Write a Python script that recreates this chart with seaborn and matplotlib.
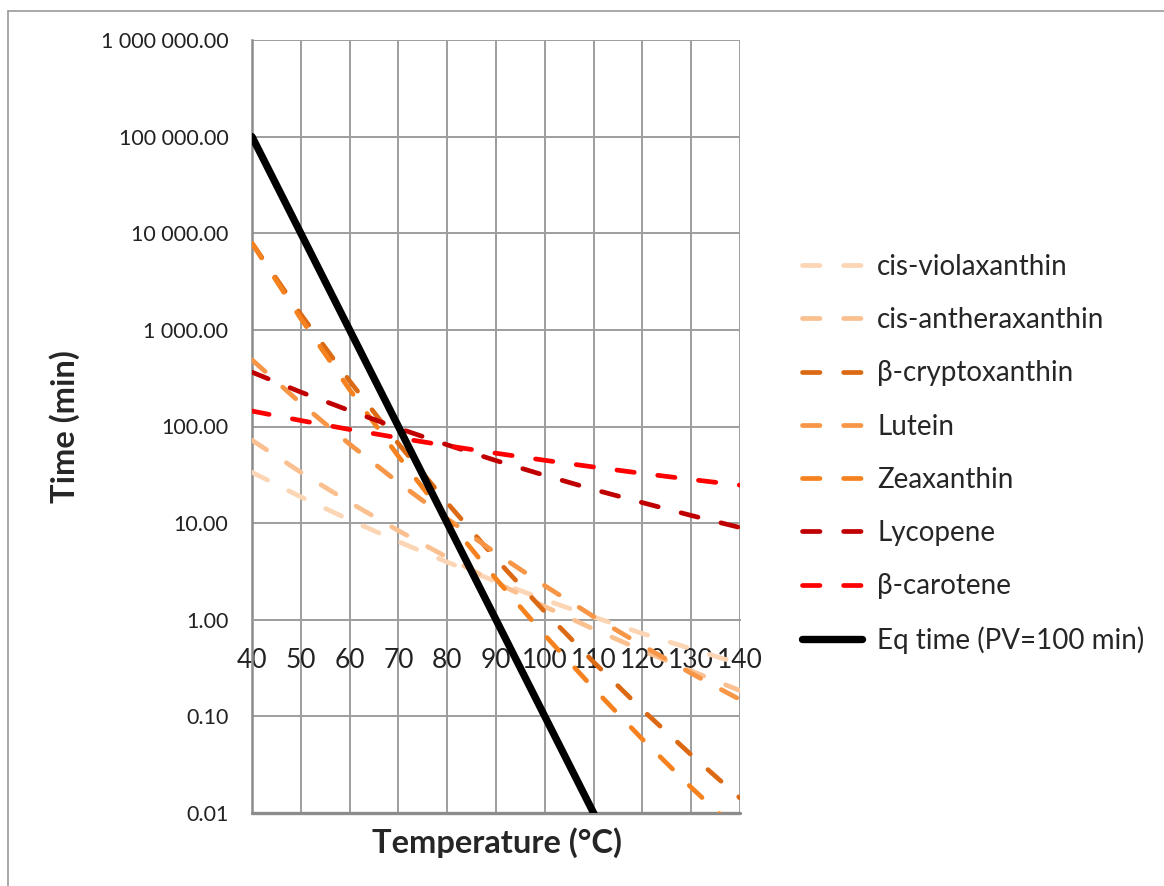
import matplotlib
matplotlib.use("Agg")
import matplotlib.pyplot as plt
import seaborn as sns
from matplotlib.lines import Line2D

# data (time in min at each temperature)
temps = [40, 50, 60, 70, 80, 90, 100, 110, 120, 130, 140]

cis_violaxanthin = [33.6, 18.7, 10.8, 6.44, 3.95, 2.49, 1.61, 1.07, 0.72, 0.50, 0.35]
cis_antheraxanthin = [72.1, 33.6, 16.4, 8.36, 4.43, 2.43, 1.37, 0.80, 0.48, 0.295, 0.185]
b_cryptoxanthin = [7900, 1450, 296, 66.4, 16.2, 4.26, 1.21, 0.365, 0.117, 0.040, 0.0143]
lutein = [490, 174, 65.7, 26.3, 11.1, 4.89, 2.25, 1.08, 0.541, 0.279, 0.149]
zeaxanthin = [7890, 1309, 241, 49.2, 10.96, 2.65, 0.693, 0.195, 0.058, 0.0184, 0.0062]
lycopene = [365, 227, 146, 95.9, 64.6, 44.4, 31.2, 22.3, 16.3, 12.0, 9.0]
b_carotene = [144.5, 115.3, 93.2, 76.3, 63.2, 52.9, 44.7, 38.1, 32.7, 28.3, 24.7]
eq_time = [1e5, 1e4, 1e3, 100, 10, 1, 0.1, 0.01, 0.001, 1e-4, 1e-5]

series_names = ["cis-violaxanthin", "cis-antheraxanthin", "β-cryptoxanthin",
                "Lutein", "Zeaxanthin", "Lycopene", "β-carotene"]
series_values = [cis_violaxanthin, cis_antheraxanthin, b_cryptoxanthin,
                 lutein, zeaxanthin, lycopene, b_carotene]
series_colors = ["#FCD5B5", "#FAC090", "#DC6A14", "#F79646", "#F5821F",
                 "#C00000", "#FF0000"]

y_ticks = [0.01, 0.1, 1, 10, 100, 1e3, 1e4, 1e5, 1e6]
y_tick_labels = ["0.01", "0.10", "1.00", "10.00", "100.00", "1 000.00",
                 "10 000.00", "100 000.00", "1 000 000.00"]

sns.set_style("white")
plt.rcParams["font.family"] = ["Lato", "DejaVu Sans"]

fig = plt.figure(figsize=(11.64, 8.86), dpi=100)
ax = fig.add_axes([252 / 1164, 1 - 813 / 886, 488 / 1164, 773 / 886])

grid_col = "#9E9E9E"

# -----------------------------------------------------------
# SERIES
# -----------------------------------------------------------
for name, vals, col in zip(series_names, series_values, series_colors):
    sns.lineplot(x=temps, y=vals, ax=ax, color=col, linewidth=3.4,
                 linestyle=(0, (3.7, 5.0)), dash_capstyle="round",
                 label=name, zorder=3)

sns.lineplot(x=temps, y=eq_time, ax=ax, color="black", linewidth=5.3,
             label="Eq time (PV=100 min)", zorder=4)

ax.set_yscale("log")
ax.set_ylim(0.01, 1e6)
ax.set_xlim(40, 140)
ax.set_xticks(temps)
ax.set_xticklabels([str(t) for t in temps])
ax.set_yticks(y_ticks)
ax.set_yticklabels(y_tick_labels)
ax.minorticks_off()

ax.grid(True, which="major", color=grid_col, linewidth=1.4)
ax.set_axisbelow(True)

for side in ["top", "right"]:
    ax.spines[side].set_visible(False)
ax.spines["left"].set_color("#8C8C8C")
ax.spines["left"].set_linewidth(1.8)
ax.spines["bottom"].set_position(("data", 1))
ax.spines["bottom"].set_color(grid_col)
ax.spines["bottom"].set_linewidth(1.4)
ax.axhline(ax.get_ylim()[0], color="#8C8C8C", linewidth=2.4, clip_on=False, zorder=2)

ax.tick_params(axis="x", length=0, pad=20, labelsize=19, labelcolor="#222222")
ax.tick_params(axis="y", length=0, pad=17, labelsize=15.5, labelcolor="#222222")

ax.set_xlabel("")
ax.set_ylabel("")
fig.text(65 / 1164, 1 - 427 / 886, "Time (min)", rotation=90, ha="center",
         va="center", fontsize=23.5, fontweight="bold")
fig.text(497 / 1164, 1 - 843 / 886, "Temperature (°C)", ha="center",
         va="center", fontsize=23.5, fontweight="bold")

# -----------------------------------------------------------
# LEGEND
# -----------------------------------------------------------
handles, labels = ax.get_legend_handles_labels()
ax.get_legend().remove()
fig.legend(handles, labels, loc="upper left",
           bbox_to_anchor=(802 / 1164, 1 - 254 / 886), frameon=False,
           fontsize=20, handlelength=2.15, handletextpad=0.55,
           labelspacing=0.98, borderpad=0, borderaxespad=0)

# outer frame lines (left and top)
fig.add_artist(Line2D([8 / 1164, 8 / 1164], [0, 1 - 11 / 886],
                      transform=fig.transFigure, color="#9A9A9A", linewidth=1.2))
fig.add_artist(Line2D([8 / 1164, 1], [1 - 11 / 886, 1 - 11 / 886],
                      transform=fig.transFigure, color="#9A9A9A", linewidth=1.2))

fig.savefig("out.png", dpi=100)
plt.close(fig)
